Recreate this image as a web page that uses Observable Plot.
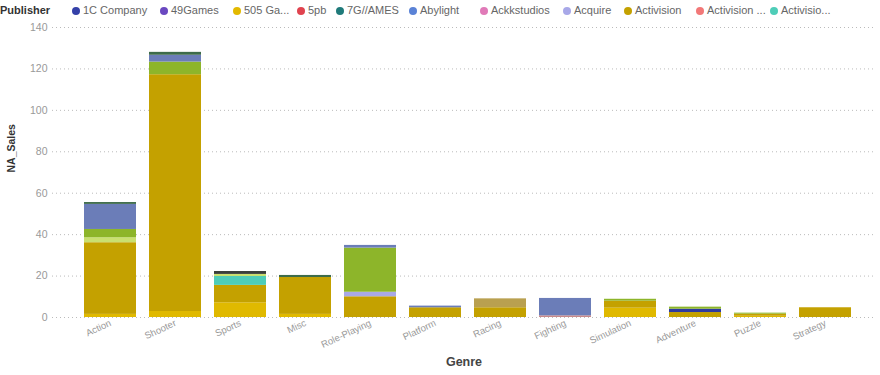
<!DOCTYPE html>
<html><head><meta charset="utf-8">
<script src="https://cdn.jsdelivr.net/npm/d3@7"></script>
<script src="https://cdn.jsdelivr.net/npm/@observablehq/plot@0.6"></script>
<style>
body{margin:0;background:#fff;font-family:"Liberation Sans",Arial,sans-serif;overflow:hidden;}
#legend{height:20px;position:relative;white-space:nowrap;font-size:11px;color:#666;overflow:hidden;}
#legend .title{position:absolute;left:0px;top:4px;font-weight:bold;color:#333;font-size:11px;}
#legend .item{position:absolute;top:4px;}
#legend .dot{display:inline-block;width:8px;height:8px;border-radius:50%;margin-right:3px;vertical-align:-0.5px;}
</style></head><body>
<div id="legend"></div><div id="chart"></div>
<script>
const genres = ["Action","Shooter","Sports","Misc","Role-Playing","Platform","Racing","Fighting","Simulation","Adventure","Puzzle","Strategy"];

// Legend entries (as shown, truncated) and their colors
const legendLabels = ["1C Company","49Games","505 Ga...","5pb","7G//AMES","Abylight","Ackkstudios","Acquire","Activision","Activision ...","Activisio..."];
const legendColors = ["#3440a8","#6a48c0","#e3b900","#e0434f","#1f7a7a","#5a82d6","#e07ab8","#a8a8e8","#c4a100","#f27878","#4ecdb8"];

// Stack order (bottom to top) and colors of the publishers found in the bars
const publishers = ["505 Games","Activision","Ackkstudios","Acquire","Activision Value","1C Company","Publisher L","Publisher G","Publisher K","Publisher B","Publisher D","Publisher X"];
const pubColors  = ["#e0b900","#c4a100","#c98a8a","#a9a9e6","#4ecdb8","#2e3aa0","#c9e070","#8db52a","#b9a050","#6b7db8","#3d6b4a","#3a3f3a"];

// NA_Sales per genre (same order as genres) for each publisher
const sales505        = [1.5, 2.9, 7.1, 1.5, 0,   0,   0,   0,   4.5, 0,   0.6, 0];
const salesActivision = [34.6,114.3,8.4,17.8,10.0,4.7, 4.7, 0,   3.4, 2.4, 1.0, 4.7];
const salesAckk       = [0,   0,   0,   0,   0,   0,   0,   0.8, 0,   0,   0,   0];
const salesAcquire    = [0,   0,   0,   0,   2.2, 0,   0,   0,   0,   0,   0,   0];
const salesActValue   = [0,   0,   4.3, 0,   0,   0,   0,   0,   0,   0,   0,   0];
const sales1C         = [0,   0,   0,   0,   0,   0,   0,   0,   0,   1.6, 0,   0];
const salesL          = [2.4, 0,   1.0, 0,   0,   0,   0,   0,   0,   0,   0,   0];
const salesG          = [4.0, 6.1, 0,   0,   21.3,0,   0,   0,   0.9, 1.0, 0.5, 0];
const salesK          = [0,   0,   0,   0,   0,   0,   4.3, 0,   0,   0,   0,   0];
const salesB          = [12.1,3.3, 0,   0,   1.3, 0.8, 0,   8.4, 0,   0,   0,   0];
const salesD          = [0.9, 1.4, 0,   1.0, 0,   0,   0,   0,   0,   0,   0,   0];
const salesX          = [0,   0,   1.4, 0,   0,   0,   0,   0,   0,   0,   0,   0];

const yTicks = [0,20,40,60,80,100,120,140];

const seriesValues = [sales505,salesActivision,salesAckk,salesAcquire,salesActValue,sales1C,salesL,salesG,salesK,salesB,salesD,salesX];
const data = [];
publishers.forEach((p,i)=>genres.forEach((g,j)=>{ if (seriesValues[i][j]>0) data.push({genre:g,publisher:p,value:seriesValues[i][j]}); }));

// legend
const leg = document.getElementById("legend");
const t = document.createElement("span"); t.className="title"; t.textContent="Publisher"; leg.appendChild(t);
const legX = [72,160,233,297,336,409,480,563,624,696,770];
legendLabels.forEach((l,i)=>{
  const s=document.createElement("span"); s.className="item"; s.style.left=legX[i]+"px";
  const d=document.createElement("span"); d.className="dot"; d.style.background=legendColors[i];
  s.appendChild(d); s.appendChild(document.createTextNode(l)); leg.appendChild(s);
});

const chart = Plot.plot({
  width: 880, height: 355,
  marginTop: 7, marginBottom: 58, marginLeft: 52, marginRight: 5,
  style: {fontFamily: '"Liberation Sans", Arial, sans-serif', fontSize: "10px", color: "#999"},
  x: {type: "band", domain: genres, paddingInner: 0.2, paddingOuter: 0.1, insetLeft: 24, insetRight: 17},
  y: {domain: [0,140]},
  color: {domain: publishers, range: pubColors},
  marks: [
    Plot.gridY(yTicks, {stroke: "#bbb", strokeOpacity: 1, strokeDasharray: "1,3"}),
    Plot.barY(data, Plot.stackY({x: "genre", y: "value", fill: "publisher", order: publishers})),
    Plot.axisY(yTicks, {tickSize: 0, tickPadding: 5, fill: "#999", fontSize: 10.5, label: null}),
    Plot.axisX({tickSize: 0, tickPadding: 5, tickRotate: -25, fill: "#999", fontSize: 9.5, label: null}),
    Plot.text(["Genre"], {frameAnchor: "bottom", dy: 48, fill: "#444", fontSize: 12.5, fontWeight: "bold"}),
    Plot.text(["NA_Sales"], {frameAnchor: "left", dx: -41, rotate: -90, fill: "#333", fontSize: 10.5, fontWeight: "bold"})
  ]
});
document.getElementById("chart").appendChild(chart);
</script>
</body></html>
